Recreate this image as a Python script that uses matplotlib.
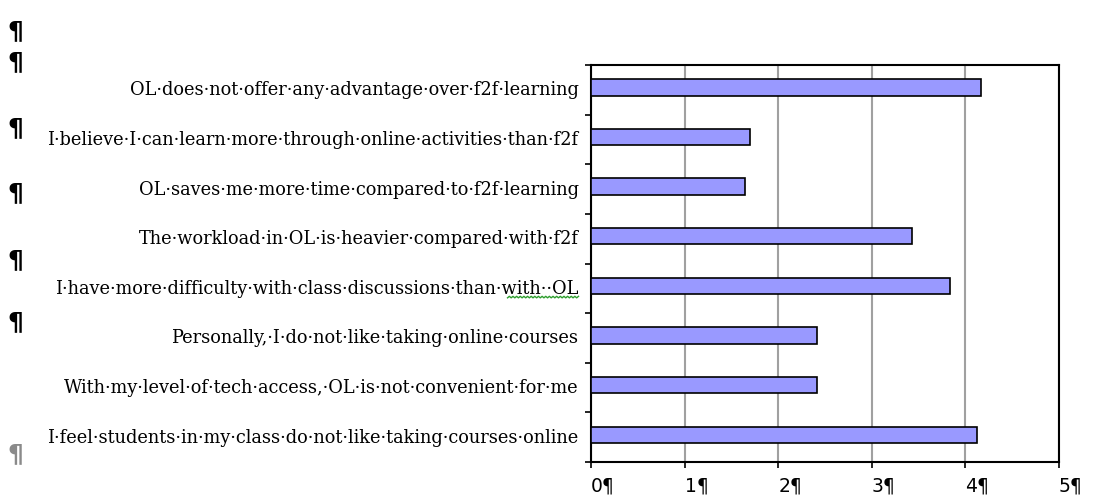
import numpy as np
import matplotlib
matplotlib.use("Agg")
import matplotlib.pyplot as plt
import matplotlib.transforms as mtransforms

# statements, top to bottom as shown in the chart (Word shows spaces as middle dots)
statements = [
    "OL·does·not·offer·any·advantage·over·f2f·learning",
    "I·believe·I·can·learn·more·through·online·activities·than·f2f",
    "OL·saves·me·more·time·compared·to·f2f·learning",
    "The·workload·in·OL·is·heavier·compared·with·f2f",
    "I·have·more·difficulty·with·class·discussions·than·with··OL",
    "Personally,·I·do·not·like·taking·online·courses",
    "With·my·level·of·tech·access,·OL·is·not·convenient·for·me",
    "I·feel·students·in·my·class·do·not·like·taking·courses·online",
]
scores = [4.17, 1.70, 1.65, 3.43, 3.84, 2.41, 2.41, 4.12]
xticks = [0, 1, 2, 3, 4, 5]
xticklabels = ["0¶", "1¶", "2¶", "3¶", "4¶", "5¶"]

# paragraph marks in the page margin (y in pixels from top)
pilcrow_y = [31, 62, 128, 193, 260, 322]
pilcrow_grey_y = 454

W, H = 1118, 502
fig = plt.figure(figsize=(W / 100, H / 100), dpi=100)
ax = fig.add_axes([591 / W, 1 - 463 / H, (1059 - 591) / W, (463 - 66) / H])

y = np.arange(len(statements))
ax.barh(y - 0.05, scores, height=0.33, color="#9999ff", edgecolor="black", linewidth=1.2, zorder=3)

ax.set_xlim(0, 5)
ax.set_ylim(len(statements) - 0.5, -0.5)

ax.set_xticks(xticks)
ax.set_xticklabels(xticklabels, fontsize=13.5, family="DejaVu Sans", ha="left")
offset = mtransforms.ScaledTranslation(-5 / 100, 0, fig.dpi_scale_trans)
for lab in ax.get_xticklabels():
    lab.set_transform(lab.get_transform() + offset)
ax.tick_params(axis="x", length=4, width=1.2, direction="out", pad=6)

ax.set_yticks(y - 0.05)
ax.set_yticklabels(statements, fontsize=12.8, family="DejaVu Serif")
ax.set_yticks(np.arange(len(statements) + 1) - 0.5, minor=True)
ax.tick_params(axis="y", which="major", length=0, pad=9)
ax.tick_params(axis="y", which="minor", length=4, width=1.2, direction="out")

ax.grid(axis="x", color="#a0a0a0", linewidth=1.5, zorder=0)
for s in ax.spines.values():
    s.set_color("black")
    s.set_linewidth(1.5)

for py in pilcrow_y:
    fig.text(15 / W, 1 - py / H, "¶", fontsize=18, family="DejaVu Sans",
             ha="center", va="center", fontweight="bold")
fig.text(15 / W, 1 - pilcrow_grey_y / H, "¶", fontsize=18, family="DejaVu Sans",
         ha="center", va="center", color="#8a8a8a", fontweight="bold")

# green grammar-check squiggle under "with··OL"
fig.canvas.draw()
lab = ax.get_yticklabels()[4]
bb = lab.get_window_extent()
frac = len("I·have·more·difficulty·with·class·discussions·than·") / len(statements[4])
xs = np.linspace(bb.x0 + frac * bb.width, bb.x1, 40)
ys = bb.y0 - 1 + 1.5 * (np.arange(40) % 2)
fig.add_artist(plt.Line2D(xs / W, ys / H, color="#2e9e2e", linewidth=1, transform=fig.transFigure))

fig.savefig("out.png", dpi=100)
